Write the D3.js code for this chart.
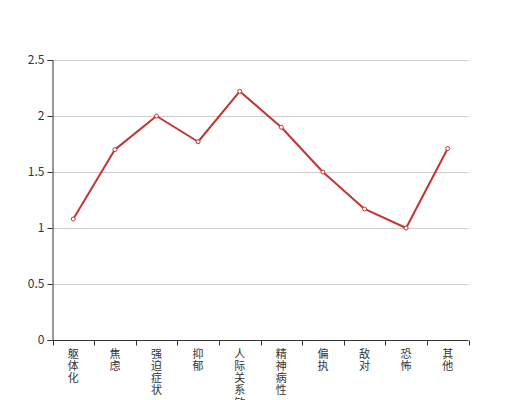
<!DOCTYPE html>
<html><head><meta charset="utf-8">
<script src="https://cdn.jsdelivr.net/npm/d3@7"></script>
<style>html,body{margin:0;padding:0;background:#fff;overflow:hidden}</style>
</head><body>
<svg id="c" width="520" height="400"></svg>
<script>
const categories = ["躯体化","焦虑","强迫症状","抑郁","人际关系敏感","精神病性","偏执","敌对","恐怖","其他"];
const values = [1.08, 1.70, 2.00, 1.77, 2.22, 1.90, 1.50, 1.17, 1.00, 1.71];
const yTicks = [0, 0.5, 1, 1.5, 2, 2.5];

(function() {
const svg = d3.select("#c");
const mLeft = 52.5, mRight = 468.5, mTop = 60, mBottom = 340;
const font = "'Noto Sans CJK SC', 'Noto Sans', sans-serif";

const x = d3.scaleBand().domain(categories).range([mLeft, mRight]);
const y = d3.scaleLinear().domain([0, 2.5]).range([mBottom, mTop]);

// grid
svg.append("g").selectAll("line").data(yTicks.filter(t => t > 0)).join("line")
  .attr("x1", mLeft).attr("x2", mRight)
  .attr("y1", d => Math.round(y(d)) + 0.5).attr("y2", d => Math.round(y(d)) + 0.5)
  .attr("stroke", "#ccc").attr("stroke-width", 1);

// y axis
const ya = svg.append("g").attr("transform", `translate(${mLeft},0)`)
  .call(d3.axisLeft(y).tickValues(yTicks).tickSize(5).tickPadding(3).tickFormat(d => String(d)));
ya.select(".domain").attr("stroke", "#333");
ya.selectAll(".tick line").attr("stroke", "#333");
ya.selectAll("text").attr("fill", "#333").attr("font-size", 12).attr("font-family", font);

// x axis
const xa = svg.append("g").attr("transform", `translate(0,${mBottom + 0.5})`);
xa.append("line").attr("x1", mLeft).attr("x2", mRight).attr("stroke", "#333");
const bounds = categories.map(c => x(c)).concat([mRight]);
xa.selectAll("line.t").data(bounds).join("line").attr("class", "t")
  .attr("x1", d => Math.round(d) + 0.5).attr("x2", d => Math.round(d) + 0.5)
  .attr("y1", 0).attr("y2", 5).attr("stroke", "#333");
const lbl = xa.selectAll("text").data(categories).join("text")
  .attr("x", d => x(d) + x.bandwidth() / 2)
  .attr("y", 17)
  .attr("text-anchor", "middle")
  .attr("fill", "#333").attr("font-size", 11).attr("font-family", font);
lbl.each(function(d) {
  const t = d3.select(this);
  Array.from(d).forEach((ch, i) => {
    t.append("tspan").attr("x", x(d) + x.bandwidth() / 2).attr("dy", i === 0 ? 0 : 12.3)
      .attr("fill", "#333").text(ch);
  });
});

// line
const cx = d => x(d) + x.bandwidth() / 2;
svg.append("path").datum(values.map((v, i) => [cx(categories[i]), y(v)]))
  .attr("d", d3.line())
  .attr("fill", "none").attr("stroke", "#c23531").attr("stroke-width", 2)
  .attr("stroke-linejoin", "bevel");
svg.append("g").selectAll("circle").data(values).join("circle")
  .attr("cx", (v, i) => cx(categories[i])).attr("cy", v => y(v)).attr("r", 2)
  .attr("fill", "#fff").attr("stroke", "#c23531").attr("stroke-width", 1);
})();
</script>
</body></html>
